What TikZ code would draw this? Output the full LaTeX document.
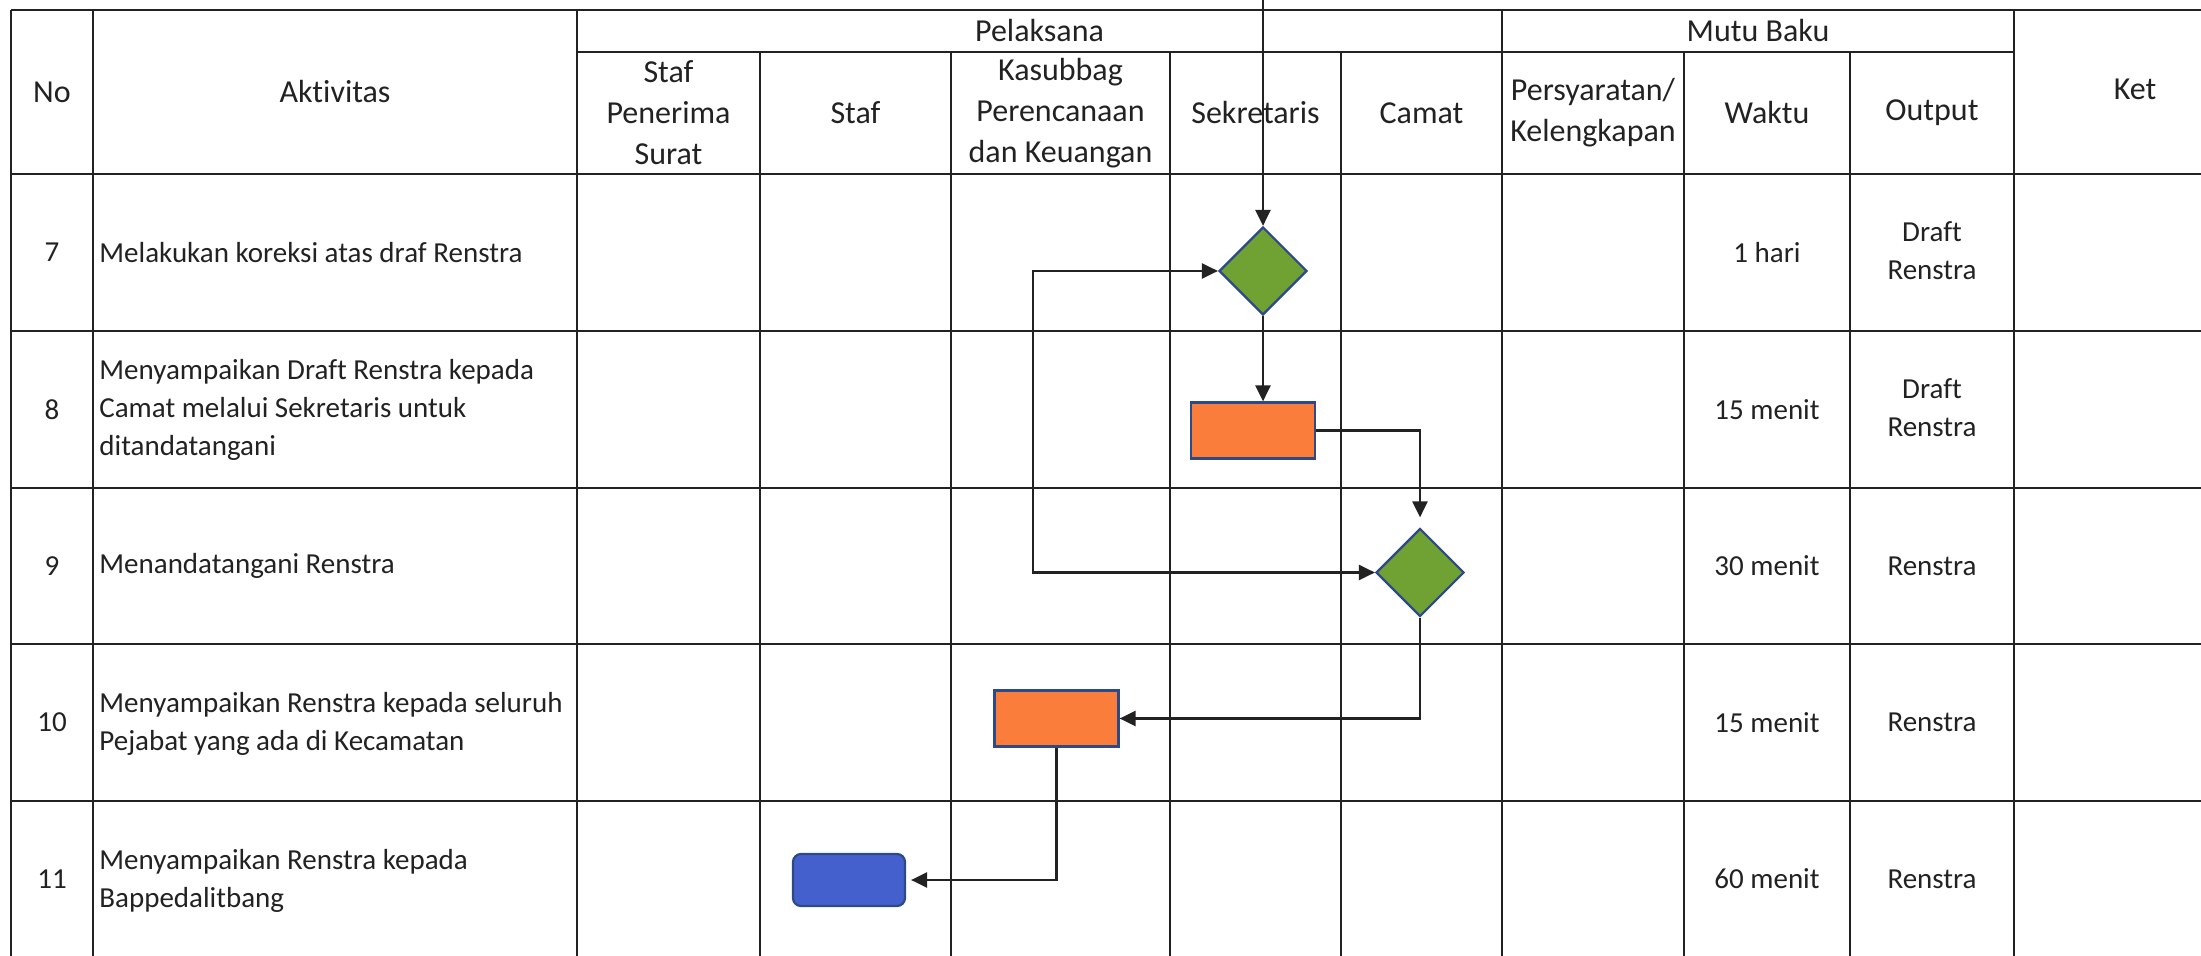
\documentclass[tikz,border=0pt]{standalone}
\usepackage{fontspec}
\setmainfont{Carlito}[Ligatures=NoCommon]
\usetikzlibrary{shapes.geometric,arrows.meta}
\definecolor{decgreen}{HTML}{6FA232}
\definecolor{procorange}{HTML}{FA7D3C}
\definecolor{termblue}{HTML}{4460CC}
\definecolor{shapeborder}{HTML}{2E4A86}
\definecolor{ink}{HTML}{222222}
\tikzset{
  gridline/.style={line width=1.4pt, draw=ink},
  conn/.style={line width=1.2pt, draw=ink, -{Triangle[length=8pt,width=7.5pt]}},
  biconn/.style={line width=1.2pt, draw=ink, {Triangle[length=8pt,width=7.5pt]}-{Triangle[length=8pt,width=7.5pt]}},
  hdr/.style={font=\fontsize{16}{20.5}\selectfont, align=center, text=ink, inner sep=0pt},
  bodytxt/.style={font=\fontsize{14.5}{19}\selectfont, align=left, anchor=west, text=ink, inner sep=0pt},
  celltxt/.style={font=\fontsize{14.5}{19}\selectfont, align=center, text=ink, inner sep=0pt},
  dec/.style={diamond, draw=shapeborder, line width=1.1pt, fill=decgreen, minimum width=44pt, minimum height=44pt, inner sep=0pt},
  proc/.style={rectangle, draw=shapeborder, line width=1.1pt, fill=procorange, minimum width=62pt, minimum height=28pt, inner sep=0pt},
  termbox/.style={rectangle, rounded corners=4pt, draw=shapeborder, line width=1.1pt, fill=termblue, minimum width=56pt, minimum height=26pt, inner sep=0pt}
}
\begin{document}
\begin{tikzpicture}[x=0.5pt,y=-0.5pt]
\useasboundingbox (0,0) rectangle (2201,956);
\fill[white] (0,0) rectangle (2201,956);

% table grid
\draw[gridline] (11,10) -- (2201,10);
\draw[gridline] (577,52) -- (2014,52);
\foreach \yy in {174,331,488,644,801} {
  \draw[gridline] (11,\yy) -- (2201,\yy);
}
\foreach \xx in {11,93,577,1502,2014} {
  \draw[gridline] (\xx,10) -- (\xx,956);
}
\foreach \xx in {760,951,1170,1341,1684,1850} {
  \draw[gridline] (\xx,52) -- (\xx,956);
}

% header
\node[hdr] (hNo) at (52,92) {No};
\node[hdr] (hAkt) at (335,92) {Aktivitas};
\node[hdr] (hPel) at (1039.5,31) {Pelaksana};
\node[hdr] (hMutu) at (1758,31) {Mutu Baku};
\node[hdr] (hKet) at (2135,89) {Ket};
\node[hdr] (hStafPen) at (668.5,113) {Staf\\Penerima\\Surat};
\node[hdr] (hStaf) at (855.5,113) {Staf};
\node[hdr] (hKasub) at (1060.5,113) {Kasubbag\\Perencanaan\\dan Keuangan};
\node[hdr] (hSekr) at (1255.5,113) {Sekretaris};
\node[hdr] (hCamat) at (1421.5,113) {Camat};
\node[hdr] (hPers) at (1593,113) {Persyaratan/\\Kelengkapan};
\node[hdr] (hWaktu) at (1767,113) {Waktu};
\node[hdr] (hOut) at (1932,113) {Output};

% rows: numbers
\node[celltxt] (n7) at (52,252.5) {7};
\node[celltxt] (n8) at (52,409.5) {8};
\node[celltxt] (n9) at (52,566) {9};
\node[celltxt] (n10) at (52,722.5) {10};
\node[celltxt] (n11) at (52,879) {11};

% rows: activities
\node[bodytxt] (a7) at (99,252.5) {Melakukan koreksi atas draf Renstra};
\node[bodytxt] (a8) at (99,410) {Menyampaikan Draft Renstra kepada\\Camat melalui Sekretaris untuk\\ditandatangani};
\node[bodytxt] (a9) at (99,566) {Menandatangani Renstra};
\node[bodytxt] (a10) at (99,723.5) {Menyampaikan Renstra kepada seluruh\\Pejabat yang ada di Kecamatan};
\node[bodytxt] (a11) at (99,881) {Menyampaikan Renstra kepada\\Bappedalitbang};

% rows: waktu
\node[celltxt] (w7) at (1767,252.5) {1 hari};
\node[celltxt] (w8) at (1767,409.5) {15 menit};
\node[celltxt] (w9) at (1767,566) {30 menit};
\node[celltxt] (w10) at (1767,722.5) {15 menit};
\node[celltxt] (w11) at (1767,879) {60 menit};

% rows: output
\node[celltxt] (o7) at (1932,251) {Draft\\Renstra};
\node[celltxt] (o8) at (1932,408) {Draft\\Renstra};
\node[celltxt] (o9) at (1932,566) {Renstra};
\node[celltxt] (o10) at (1932,722.5) {Renstra};
\node[celltxt] (o11) at (1932,879) {Renstra};

% flow shapes
\node[dec] (d1) at (1263,271) {};
\node[proc] (r1) at (1253,430.5) {};
\node[dec] (d2) at (1420,572.5) {};
\node[proc] (r2) at (1056.5,718.5) {};
\node[termbox] (b1) at (849,880) {};

\coordinate (topin) at (1263,0);
\coordinate (loopx) at (1033,400);

% connectors
\draw[conn] (topin) -- (d1.north);
\draw[conn] (d1.south) -- (d1.south |- r1.north);
\draw[conn, shorten >=5pt] (r1.east) -| (d2.north);
\draw[biconn] (d2.west) -- (d2.west -| loopx) |- (d1.west);
\draw[conn] (d2.south) |- (r2.east);
\draw[conn, shorten >=2.5pt] (r2.south) |- (b1.east);
\end{tikzpicture}
\end{document}
